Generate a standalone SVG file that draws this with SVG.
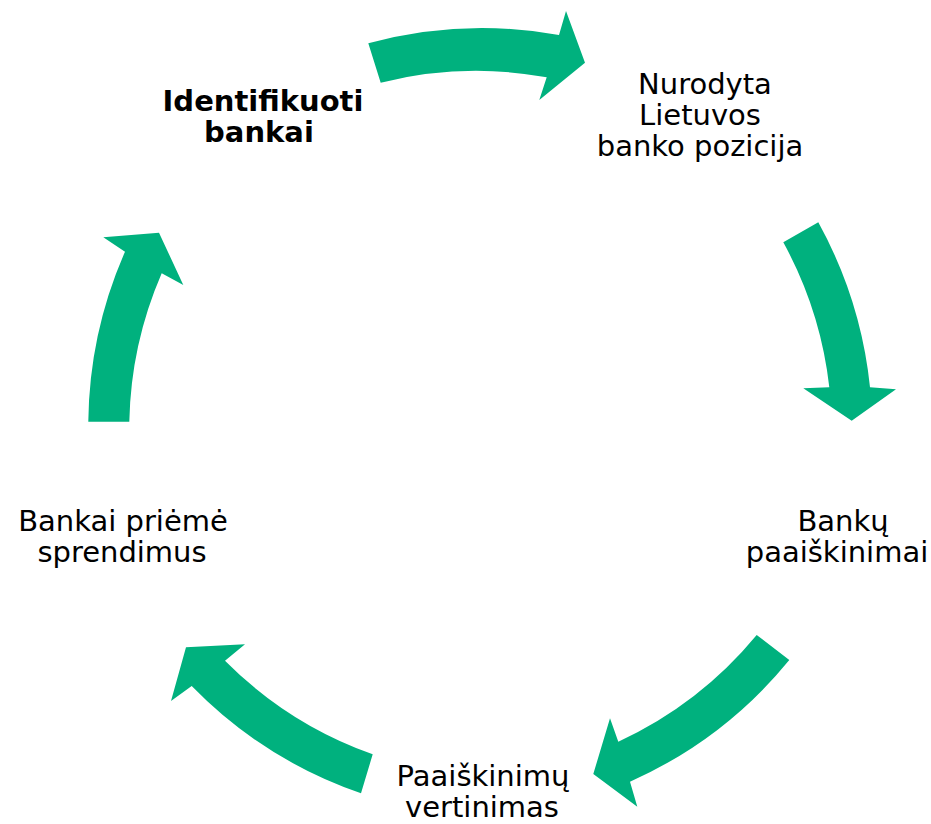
<svg xmlns="http://www.w3.org/2000/svg" width="931" height="824" viewBox="0 0 931 824">
  <style>
    .lbl { font-family: "DejaVu Sans", Verdana, sans-serif; font-size: 29px; fill: #000; text-anchor: middle; }
    .bold { font-weight: bold; }
    .arrow { fill: #00B17E; stroke: none; }
  </style>
  <rect width="931" height="824" fill="#fff"/>
  <g id="connectors">
    <path class="arrow" d="M368.3,43.3 A434,434 0 0 1 559,35 L566,11 L585,62.7 L539.3,100 L546.7,77.3 A393,393 0 0 0 380.7,82.7 Z"/>
    <path class="arrow" d="M818.3,222.3 A434,434 0 0 1 870,387.3 L896,389.3 L851.7,420.7 L803.3,388.3 L829.3,387.3 A393,393 0 0 0 783.3,242.3 Z"/>
    <path class="arrow" d="M789.3,660 A434,434 0 0 1 630,781.7 L637.3,806.7 L593.3,774 L610,718.3 L618.3,741.7 A393,393 0 0 0 756.7,635 Z"/>
    <path class="arrow" d="M361,793.3 A434,434 0 0 1 191.7,686 L171,701 L186,647.3 L245,644.3 L225,660.7 A393,393 0 0 0 372.7,754.3 Z"/>
    <path class="arrow" d="M88.3,421.7 A434,434 0 0 1 125,251.7 L103.3,237.3 L159,232.7 L183.3,285 L161.7,273.3 A393,393 0 0 0 129.3,421.7 Z"/>
  </g>
  <g id="node-identifikuoti">
    <text class="lbl bold"><tspan x="263" y="111">Identifikuoti</tspan><tspan x="259" y="142">bankai</tspan></text>
  </g>
  <g id="node-nurodyta">
    <text class="lbl"><tspan x="705" y="94">Nurodyta</tspan><tspan x="700" y="125">Lietuvos</tspan><tspan x="700" y="156">banko pozicija</tspan></text>
  </g>
  <g id="node-bankupaaiskinimai">
    <text class="lbl"><tspan x="843" y="531">Bankų</tspan><tspan x="837" y="562">paaiškinimai</tspan></text>
  </g>
  <g id="node-vertinimas">
    <text class="lbl"><tspan x="483" y="786">Paaiškinimų</tspan><tspan x="482" y="817">vertinimas</tspan></text>
  </g>
  <g id="node-sprendimai">
    <text class="lbl"><tspan x="123" y="531">Bankai priėmė</tspan><tspan x="122" y="562">sprendimus</tspan></text>
  </g>
</svg>
